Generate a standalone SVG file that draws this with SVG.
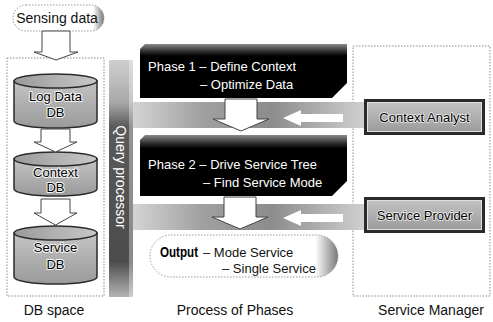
<svg xmlns="http://www.w3.org/2000/svg" width="493" height="322" viewBox="0 0 493 322">
<style>
text{font-family:"Liberation Sans",Arial,sans-serif;}
.lbl{font-size:14px;fill:#111;text-anchor:middle}
.dash{fill:none;stroke:#8a8a8a;stroke-width:1;stroke-dasharray:1.5 1.5}
.cyl{fill:url(#cylG);stroke:#2a2a2a;stroke-width:1.5}
.cyltop{fill:url(#cylTop);stroke:#2a2a2a;stroke-width:1.5}
.dbt{font-size:13px;fill:#000;text-anchor:middle;stroke:#f4f4f4;stroke-width:2px;paint-order:stroke;stroke-linejoin:round}
.warrow{fill:#fff;stroke:#444;stroke-width:1}
.phase{fill:url(#phaseG)}
.pt{font-size:13px;fill:#fff}
.btn{fill:#2a2a2a}
.btnin{fill:url(#btnG);stroke:#e0e0e0;stroke-width:1}
.bt{font-size:13px;fill:#000;text-anchor:middle;stroke:#eee;stroke-width:1.6px;paint-order:stroke;stroke-linejoin:round}
.pill{stroke:#999;stroke-width:1;stroke-dasharray:1.5 1.5}
.band{fill:url(#bandG)}
.larrow{fill:#fff}
</style>
<defs>
<linearGradient id="cylG" x1="0" y1="0" x2="0" y2="1">
<stop offset="0" stop-color="#c4c4c4"/><stop offset="1" stop-color="#9a9a9a"/>
</linearGradient>
<linearGradient id="cylTop" x1="0" y1="0" x2="1" y2="0">
<stop offset="0" stop-color="#9a9a9a"/><stop offset="1" stop-color="#c8c8c8"/>
</linearGradient>
<linearGradient id="phaseG" x1="0" y1="0" x2="0" y2="1">
<stop offset="0" stop-color="#8a8a8a"/><stop offset="0.13" stop-color="#333"/><stop offset="0.22" stop-color="#000"/><stop offset="1" stop-color="#000"/>
</linearGradient>
<linearGradient id="barG" x1="0" y1="0" x2="0" y2="1">
<stop offset="0" stop-color="#cfcfcf"/><stop offset="0.18" stop-color="#a8a8a8"/><stop offset="0.28" stop-color="#5a5a5a"/><stop offset="0.85" stop-color="#4c4c4c"/><stop offset="1" stop-color="#b4b4b4"/>
</linearGradient>
<linearGradient id="bandG" x1="0" y1="0" x2="1" y2="0">
<stop offset="0" stop-color="#d4d4d4"/><stop offset="0.3" stop-color="#a0a0a0"/><stop offset="0.6" stop-color="#8c8c8c"/><stop offset="1" stop-color="#cfcfcf"/>
</linearGradient>
<linearGradient id="btnG" x1="0" y1="0" x2="0" y2="1">
<stop offset="0" stop-color="#c2c2c2"/><stop offset="1" stop-color="#9c9c9c"/>
</linearGradient>
<linearGradient id="pillG" x1="0" y1="0" x2="1" y2="0">
<stop offset="0" stop-color="#fff"/><stop offset="0.88" stop-color="#fff"/><stop offset="1" stop-color="#777"/>
</linearGradient>
</defs>

<g id="db-space">
<rect class="dash" x="7" y="58" width="97" height="238"/>
</g>

<g id="sensing-data">
<rect class="pill" x="13" y="5" width="91" height="26" rx="13" fill="url(#pillG)"/>
<text x="57" y="23" style="font-size:14px;fill:#111" text-anchor="middle">Sensing data</text>
</g>

<g id="log-data-db">
<path class="cyl" d="M14,81 V121 A41.5,7 0 0 0 97,121 V81 Z"/>
<ellipse class="cyltop" cx="55.5" cy="81" rx="41.5" ry="7"/>
<text class="dbt" x="55.5" y="101">Log Data</text>
<text class="dbt" x="55.5" y="117">DB</text>
</g>

<g id="context-db">
<path class="cyl" d="M14,159 V189 A41.5,7 0 0 0 97,189 V159 Z"/>
<ellipse class="cyltop" cx="55.5" cy="159" rx="41.5" ry="7"/>
<text class="dbt" x="55.5" y="177">Context</text>
<text class="dbt" x="55.5" y="192">DB</text>
</g>

<g id="service-db">
<path class="cyl" d="M14,233 V277 A41.5,7 0 0 0 97,277 V233 Z"/>
<ellipse class="cyltop" cx="55.5" cy="233" rx="41.5" ry="7"/>
<text class="dbt" x="55.5" y="252">Service</text>
<text class="dbt" x="55.5" y="269">DB</text>
</g>

<g id="query-processor">
<rect x="109" y="60" width="24" height="237" fill="url(#barG)"/>
<rect x="129" y="60" width="4" height="237" fill="#fff" opacity="0.35"/>
<text transform="translate(116,177) rotate(90)" x="0" y="0" text-anchor="middle" style="font-size:14px;fill:#fff">Query processor</text>
</g>

<g id="service-manager">
<rect class="dash" x="353" y="46" width="137" height="250"/>
</g>

<g id="connectors">
<rect class="band" x="133" y="102" width="231" height="26"/>
<rect class="band" x="133" y="204" width="231" height="26"/>
<path class="warrow" d="M42,31 H70 V52 H78 L56,60 L34,52 H42 Z"/>
<path class="warrow" d="M41,129 H70 V142 H77 L55.5,152 L34,142 H41 Z"/>
<path class="warrow" d="M41,199 H70 V213 H77 L55.5,225 L34,213 H41 Z"/>
<path class="larrow" d="M283,118 L301,110 V114 H343 V122 H301 V126 Z"/>
<path class="larrow" d="M283,218 L301,210 V214 H343 V222 H301 V226 Z"/>
<path class="warrow" d="M225,99 H257 V119 H269 L241,131 L213,119 H225 Z"/>
<path class="warrow" d="M224,197 H256 V217 H268 L240,229 L212,217 H224 Z"/>
</g>

<g id="phase-1">
<path class="phase" d="M145,44 H347 V83 L332,98 H140 V49 Z"/>
<text class="pt" x="148" y="71">Phase 1 – Define Context</text>
<text class="pt" x="200" y="89">– Optimize Data</text>
</g>

<g id="phase-2">
<path class="phase" d="M145,135 H347 V181 L332,196 H140 V140 Z"/>
<text class="pt" x="148" y="169">Phase 2 – Drive Service Tree</text>
<text class="pt" x="203" y="187">– Find Service Mode</text>
</g>

<g id="output">
<rect class="pill" x="150" y="235" width="188" height="42" rx="21" fill="url(#pillG)"/>
<text x="160" y="257" textLength="38" lengthAdjust="spacingAndGlyphs" style="font-size:14px;font-weight:bold;fill:#000">Output</text>
<text x="203" y="257" style="font-size:13px;fill:#111">– Mode Service</text>
<text x="222" y="273" style="font-size:13px;fill:#111">– Single Service</text>
</g>

<g id="context-analyst">
<rect class="btn" x="364" y="99" width="121" height="36"/>
<rect class="btnin" x="367.5" y="102.5" width="114" height="29"/>
<text class="bt" x="424.5" y="122">Context Analyst</text>
</g>

<g id="service-provider">
<rect class="btn" x="364" y="197" width="121" height="36"/>
<rect class="btnin" x="367.5" y="200.5" width="114" height="29"/>
<text class="bt" x="424.5" y="220">Service Provider</text>
</g>

<g id="labels">
<text class="lbl" x="54" y="315">DB space</text>
<text class="lbl" x="235" y="315">Process of Phases</text>
<text class="lbl" x="431" y="315">Service Manager</text>
</g>
</svg>
